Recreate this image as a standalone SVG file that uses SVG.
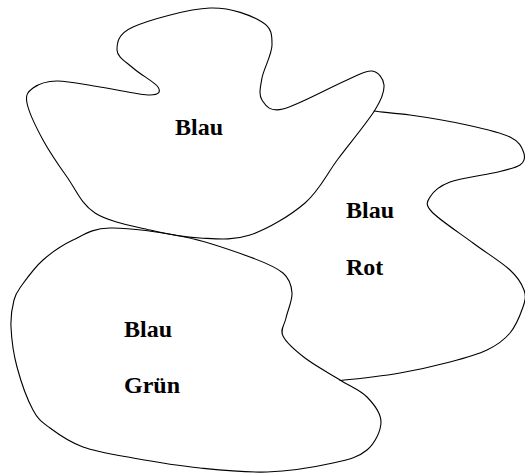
<svg xmlns="http://www.w3.org/2000/svg" width="525" height="474" viewBox="0 0 525 474">
<style>
.blob{fill:none;stroke:#000;stroke-width:1.1;stroke-linejoin:round;stroke-linecap:round}
.lbl{font-family:"Liberation Serif","Times New Roman",serif;font-weight:bold;font-size:24px;fill:#000}
</style>
<rect x="0" y="0" width="525" height="474" fill="#fff"/>
<g id="connectors"></g>
<g id="region-rot">
<path class="blob" d="M374,111 C381.3,112.3 394.3,112.8 410,115 C425.7,117.2 450.3,121.3 467,125 C483.7,128.7 500.5,132.5 510,137 C519.5,141.5 521.8,147.3 523.5,152 C525.2,156.7 525.2,161.5 520,165 C514.8,168.5 504.7,170.2 493,173 C481.3,175.8 460.5,178 450,182 C439.5,186 433,192 430,197 C427,202 424.8,204.3 432,212 C439.2,219.7 460,233.3 473,243 C486,252.7 501.5,262.2 510,270 C518.5,277.8 521.8,283.8 524,290 C526.2,296.2 525.5,299.8 523,307 C520.5,314.2 516,325.8 510,333 C504,340.2 497,345.2 487,350 C477,354.8 464.5,358.2 450,362 C435.5,365.8 418.3,369.8 400,373 C381.7,376.2 352.5,379.3 340,380.5"/>
<text class="lbl" x="346" y="218">Blau</text>
<text class="lbl" x="346" y="275">Rot</text>
</g>
<g id="region-top">
<path class="blob" d="M57,81 C68.2,80.8 84.5,84.7 100,87 C115.5,89.3 140.3,95 150,95 C159.7,95 160.8,91.5 158,87 C155.2,82.5 139.8,74.2 133,68 C126.2,61.8 117,56.8 117,50 C117,43.2 117.5,34 133,27 C148.5,20 188.5,8.8 210,8 C231.5,7.2 251.7,15.8 262,22 C272.3,28.2 272,35.7 272,45 C272,54.3 263.7,68.8 262,78 C260.3,87.2 258.5,94.8 262,100 C265.5,105.2 268.8,112.3 283,109 C297.2,105.7 332.2,86.3 347,80 C361.8,73.7 365.8,70.2 372,71 C378.2,71.8 383.5,78.5 384,85 C384.5,91.5 382.7,97.7 375,110 C367.3,122.3 349.7,143.5 338,159 C326.3,174.5 319.7,190.3 305,203 C290.3,215.7 267.5,229.2 250,235 C232.5,240.8 216.7,238.8 200,238 C183.3,237.2 167.5,234.2 150,230 C132.5,225.8 108.8,221.8 95,213 C81.2,204.2 75.7,189.2 67,177 C58.3,164.8 49.7,152.3 43,140 C36.3,127.7 28.7,111.7 27,103 C25.3,94.3 28,91.7 33,88 C38,84.3 45.8,81.2 57,81 Z"/>
<text class="lbl" x="175" y="135">Blau</text>
</g>
<g id="region-gruen">
<path class="blob" d="M110,228 C128.7,227.5 161.7,232.2 185,237 C208.3,241.8 233.7,251 250,257 C266.3,263 276,267 283,273 C290,279 291.5,285.5 292,293 C292.5,300.5 287.5,310.8 286,318 C284.5,325.2 279.8,329.3 283,336 C286.2,342.7 295.5,350.7 305,358 C314.5,365.3 329.7,373.5 340,380 C350.3,386.5 360.2,390 367,397 C373.8,404 381,413.2 381,422 C381,430.8 375,443.2 367,450 C359,456.8 349.7,459.3 333,463 C316.3,466.7 289.2,471.2 267,472 C244.8,472.8 222.3,470.3 200,468 C177.7,465.7 152.5,461.5 133,458 C113.5,454.5 96.8,452 83,447 C69.2,442 58.3,434.2 50,428 C41.7,421.8 38.5,420.2 33,410 C27.5,399.8 20.7,380.8 17,367 C13.3,353.2 11.5,338.2 11,327 C10.5,315.8 12.2,307 14,300 C15.8,293 17.2,291.7 22,285 C26.8,278.3 34.5,267.5 43,260 C51.5,252.5 61.8,245.3 73,240 C84.2,234.7 91.3,228.5 110,228 Z"/>
<text class="lbl" x="124" y="337">Blau</text>
<text class="lbl" x="124" y="393">Grün</text>
</g>
</svg>
